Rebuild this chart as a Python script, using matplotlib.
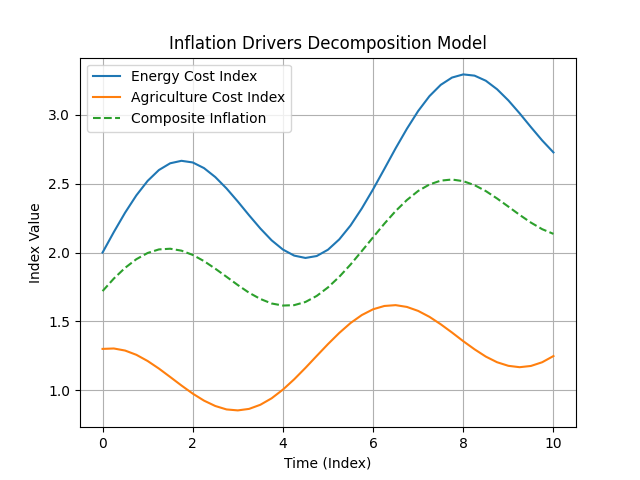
import matplotlib as mpl
mpl.use('Agg')
import matplotlib.pyplot as plt

# time index, step 0.25
time_idx = [i * 0.25 for i in range(41)]

energy = [2.000, 2.149, 2.290, 2.416, 2.521, 2.600, 2.649, 2.667, 2.655, 2.614,
          2.549, 2.466, 2.371, 2.271, 2.175, 2.089, 2.022, 1.978, 1.961, 1.975,
          2.021, 2.096, 2.197, 2.321, 2.460, 2.608, 2.758, 2.900, 3.029, 3.137,
          3.219, 3.272, 3.295, 3.286, 3.249, 3.187, 3.106, 3.012, 2.912, 2.815,
          2.728]

agri = [1.300, 1.303, 1.288, 1.257, 1.212, 1.157, 1.096, 1.034, 0.975, 0.924,
        0.885, 0.860, 0.853, 0.864, 0.894, 0.941, 1.004, 1.079, 1.162, 1.249,
        1.335, 1.416, 1.488, 1.546, 1.588, 1.612, 1.618, 1.605, 1.576, 1.533,
        1.479, 1.419, 1.356, 1.297, 1.244, 1.203, 1.177, 1.167, 1.176, 1.203,
        1.248]

composite = [1.720, 1.811, 1.889, 1.952, 1.997, 2.023, 2.028, 2.014, 1.983, 1.938,
             1.883, 1.824, 1.764, 1.708, 1.663, 1.630, 1.615, 1.618, 1.641, 1.685,
             1.747, 1.824, 1.913, 2.011, 2.111, 2.210, 2.302, 2.382, 2.448, 2.495,
             2.523, 2.531, 2.519, 2.490, 2.447, 2.393, 2.334, 2.274, 2.218, 2.170,
             2.136]

fig, ax = plt.subplots(figsize=(6.4, 4.8), dpi=100)
ax.plot(time_idx, energy, label='Energy Cost Index')
ax.plot(time_idx, agri, label='Agriculture Cost Index')
ax.plot(time_idx, composite, '--', label='Composite Inflation')

ax.set_title('Inflation Drivers Decomposition Model')
ax.set_xlabel('Time (Index)')
ax.set_ylabel('Index Value')
ax.legend(loc='upper left')
ax.grid(True)

plt.savefig('out.png')
